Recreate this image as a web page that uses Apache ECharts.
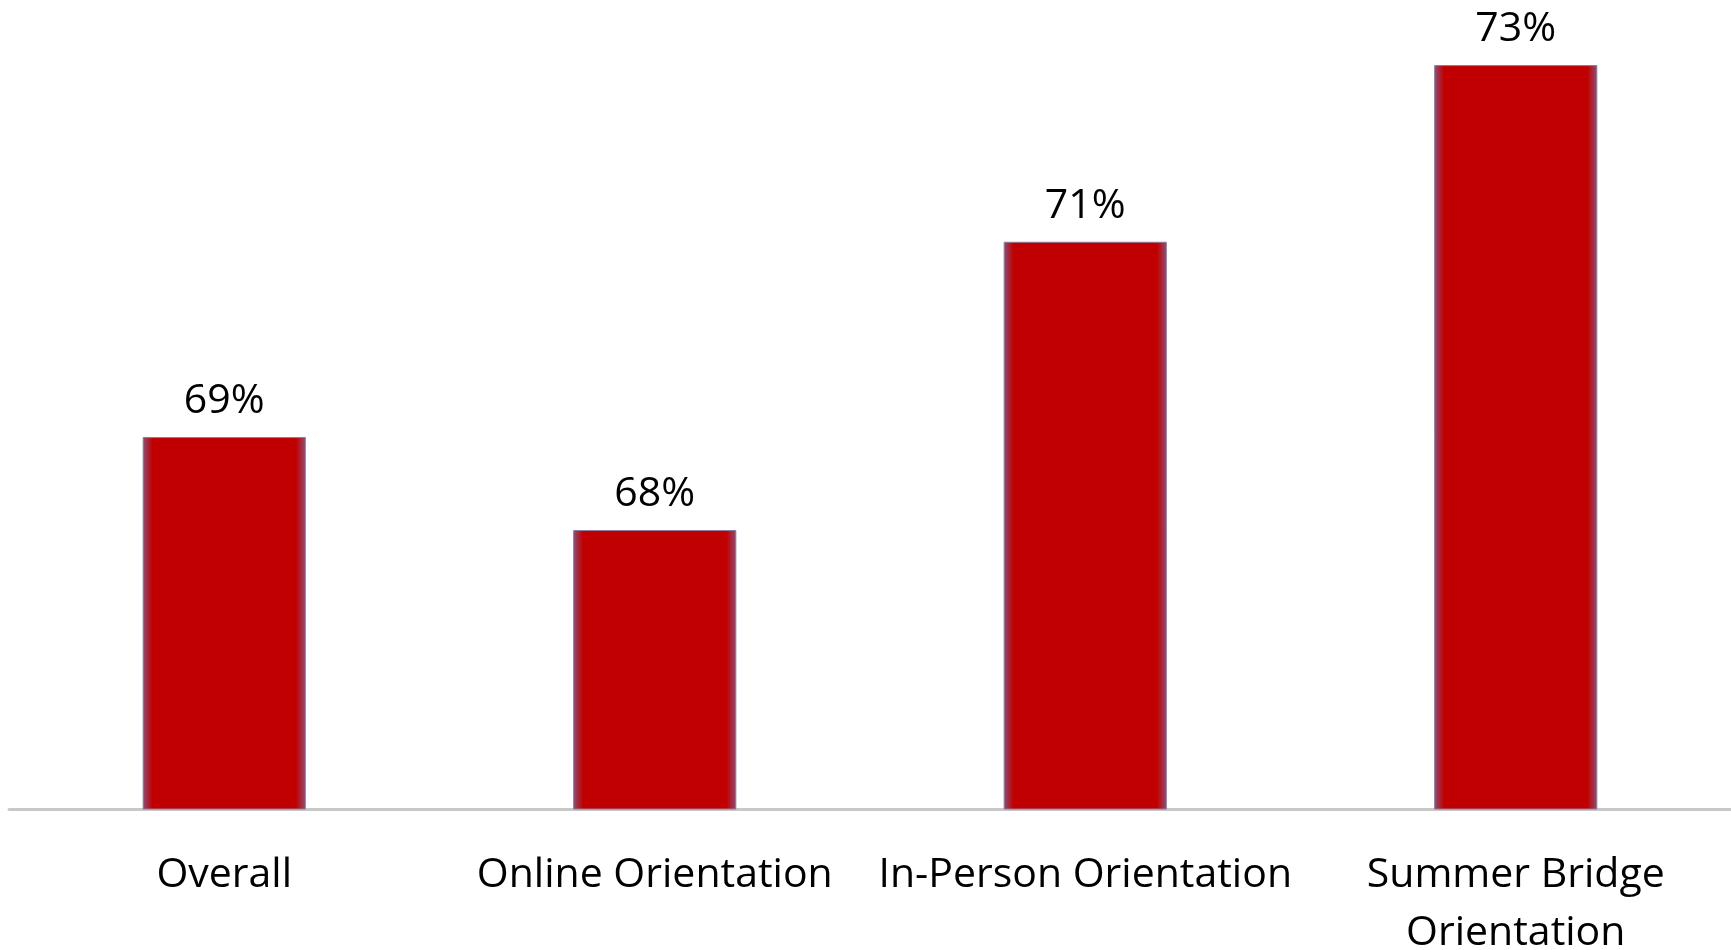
<!DOCTYPE html>
<html>
<head>
<meta charset="utf-8">
<script src="https://cdn.jsdelivr.net/npm/echarts@6/dist/echarts.min.js"></script>
<style>
html,body{margin:0;padding:0;background:#fff;}
#chart{width:1731px;height:950px;}
</style>
</head>
<body>
<div id="chart"></div>
<script>
const categories = ['Overall', 'Online Orientation', 'In-Person Orientation', 'Summer Bridge\nOrientation'];
const values = [69.0, 68.0, 71.1, 73.0];
const axisMin = 65;
const axisMax = 73.7;

const chart = echarts.init(document.getElementById('chart'));
const barFill = new echarts.graphic.LinearGradient(0, 0, 1, 0, [
  {offset: 0, color: '#8c5078'},
  {offset: 0.06, color: '#c00000'},
  {offset: 0.94, color: '#c00000'},
  {offset: 1, color: '#8c5078'}
]);
chart.setOption({
  animation: false,
  backgroundColor: '#ffffff',
  grid: {left: 9, right: 0, top: 0, bottom: 141, containLabel: false, outerBoundsMode: 'none'},
  xAxis: {
    type: 'category',
    data: categories,
    axisLine: {show: true, lineStyle: {color: '#c8c8c8', width: 3}},
    axisTick: {show: false},
    axisLabel: {
      interval: 0,
      margin: 37,
      color: '#000000',
      fontFamily: 'Open Sans',
      fontSize: 41,
      lineHeight: 58
    }
  },
  yAxis: {
    type: 'value',
    min: axisMin,
    max: axisMax,
    show: false,
    splitLine: {show: false}
  },
  series: [{
    type: 'bar',
    data: values,
    barWidth: '37.9%',
    itemStyle: {color: barFill, borderColor: '#8f7a9a', borderWidth: 1},
    label: {
      show: true,
      position: 'top',
      distance: 15,
      color: '#000000',
      fontFamily: 'Open Sans',
      fontSize: 41,
      lineHeight: 41,
      formatter: p => Math.round(p.value) + '%'
    }
  }]
});
</script>
</body>
</html>
